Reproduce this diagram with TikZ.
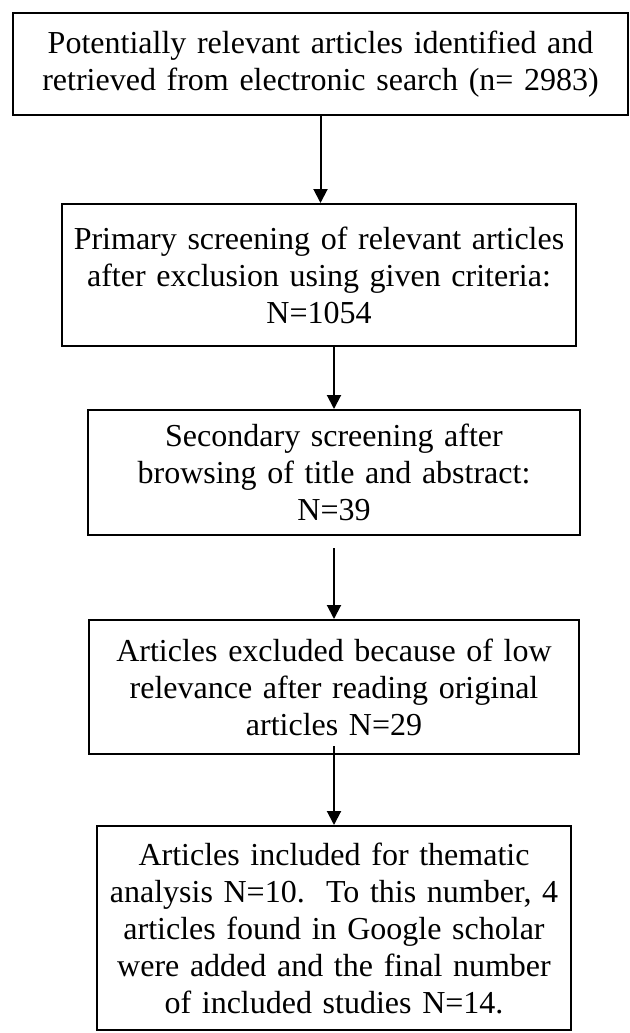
\documentclass[tikz,border=0pt]{standalone}
\usepackage{fontspec}
\setmainfont{Liberation Serif}
\usetikzlibrary{arrows.meta}

\begin{document}
\begin{tikzpicture}[x=0.5pt,y=-0.5pt]

      \useasboundingbox (0,0) rectangle (630,1033);

      \begin{scope}[every node/.style={rectangle, draw, line width=1pt, inner sep=0pt, align=center,
                                       font=\fontsize{16}{18.5}\selectfont}]
        \node[minimum width=307.5pt, minimum height=51pt, text width=300pt] (1) at (320.5,64)
          {Potentially relevant articles identified and\\retrieved from electronic search (n= 2983)};
        \node[minimum width=257pt, minimum height=71pt, text width=250pt] (2) at (319,275)
          {Primary screening of relevant articles\\after exclusion using given criteria:\\N=1054};
        \node[minimum width=246pt, minimum height=62.5pt, text width=238pt] (3) at (334,472.5)
          {Secondary screening after\\browsing of title and abstract:\\N=39};
        \node[minimum width=245pt, minimum height=67pt, text width=238pt] (4) at (334,687)
          {Articles excluded because of low\\relevance after reading original\\articles N=29};
        \node[minimum width=237pt, minimum height=102pt, text width=230pt] (5) at (334,928)
          {Articles included for thematic\\analysis N=10.\ \ To this number, 4\\articles found in Google scholar\\were added and the final number\\of included studies N=14.};
      \end{scope}

      \begin{scope}[every edge/.style={draw, line width=1pt, -{Triangle[width=7pt,length=7pt]}}]
        \path (1.south) edge (1.south |- 2.north);
        \path (2.south -| 3.north) edge (3.north);
        \path ([yshift=-6pt]3.south) edge (4.north);
        \path ([yshift=4.5pt]4.south) edge (5.north);
      \end{scope}

    \end{tikzpicture}
\end{document}
